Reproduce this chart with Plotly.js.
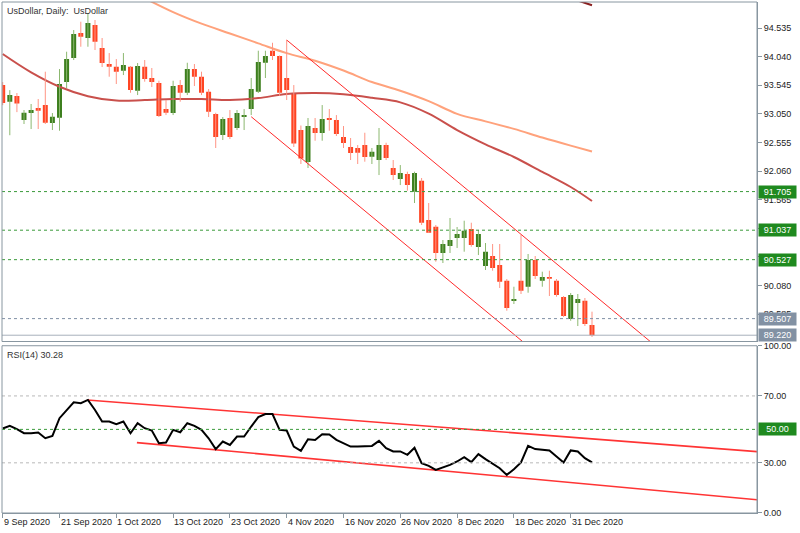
<!DOCTYPE html>
<html>
<head>
<meta charset="utf-8">
<script src="https://cdn.plot.ly/plotly-3.0.1.min.js"></script>
<style>html,body{margin:0;padding:0;background:#fff;}#chart{width:800px;height:533px;}</style>
</head>
<body>
<div id="chart"></div>
<script>
// ---- Data (daily bars, index 0 = 9 Sep 2020) ----
const dateLabels = ['9 Sep 2020','21 Sep 2020','1 Oct 2020','13 Oct 2020','23 Oct 2020','4 Nov 2020','16 Nov 2020','26 Nov 2020','8 Dec 2020','18 Dec 2020','31 Dec 2020'];
const dateLabelIdx = [0,8,16,24,32,40,48,56,64,72,80];

const opens = [93.548,93.26,93.358,92.943,93.064,93.151,93.202,92.891,92.983,93.60,
 94.016,94.448,94.362,94.587,94.189,93.912,93.865,93.796,93.865,93.45,
 93.865,93.67,93.583,93.133,93.064,93.548,93.415,93.825,93.692,93.433,
 93.047,92.683,92.978,92.805,92.995,93.133,93.433,93.934,94.142,94.05,
 93.67,93.40,92.77,92.216,92.805,92.718,92.978,92.943,92.649,92.476,
 92.459,92.51,92.308,92.251,92.51,92.113,91.922,92.009,91.703,91.893,
 91.213,91.097,90.642,90.763,90.902,90.902,91.057,90.746,90.417,90.59,
 90.434,90.163,89.812,90.163,90.059,90.521,90.163,90.227,90.163,89.881,
 89.50,89.777,89.817,89.396];
const highs = [93.60,93.46,93.41,93.116,93.22,93.306,93.779,93.064,93.825,94.125,
 94.50,94.644,94.794,94.673,94.362,94.102,93.998,94.102,93.877,93.929,
 93.981,93.843,93.623,93.289,93.623,93.635,93.934,93.912,93.779,93.479,
 93.069,92.995,93.116,93.116,93.133,93.67,94.142,94.142,94.28,94.06,
 94.327,93.548,92.848,92.978,92.978,93.202,93.133,93.029,92.839,92.632,
 92.51,92.723,92.459,92.805,92.55,92.251,92.164,92.049,92.049,91.94,
 91.507,91.126,90.867,91.248,91.092,91.201,91.166,91.04,90.815,90.798,
 90.798,90.192,90.059,90.953,90.625,90.59,90.319,90.336,90.192,89.898,
 89.95,89.933,89.864,89.627];
const lows = [93.20,92.68,93.08,92.874,92.787,92.787,92.874,92.77,92.758,93.497,
 93.981,94.211,94.211,94.154,93.86,93.692,93.566,93.721,93.415,93.375,
 93.606,93.514,92.995,93.029,93.029,93.26,93.375,93.531,93.375,92.995,
 92.459,92.597,92.614,92.77,92.77,93.029,93.41,93.67,93.981,93.358,
 93.289,92.476,92.182,92.113,92.585,92.585,92.758,92.666,92.459,92.251,
 92.182,92.222,92.182,91.991,92.251,91.905,91.818,91.72,91.507,91.126,
 90.988,90.492,90.469,90.642,90.729,90.665,90.751,90.607,90.348,90.336,
 90.037,89.644,89.76,89.933,89.955,90.192,90.059,89.898,89.886,89.535,
 89.471,89.379,89.379,89.189];
const closes = [93.237,93.375,93.23,93.069,93.116,93.104,92.896,93.00,93.566,93.998,
 94.431,94.384,94.621,94.298,93.929,93.865,93.779,93.894,93.462,93.877,
 93.652,93.60,93.012,93.069,93.531,93.415,93.825,93.692,93.415,93.087,
 92.649,92.96,92.649,93.064,93.029,93.479,93.946,94.05,94.05,93.415,
 93.462,92.536,92.277,92.839,92.718,92.96,92.943,92.701,92.545,92.372,
 92.377,92.303,92.395,92.51,92.286,91.991,92.026,91.818,92.026,91.166,
 90.993,90.642,90.798,90.867,90.971,91.028,90.78,90.971,90.665,90.383,
 90.146,89.691,89.846,89.99,90.521,90.244,90.227,90.197,89.915,89.552,
 89.915,89.846,89.414,89.22];

// moving averages (sampled at bar indices)
const maFastIdx = [0,4,8,12,16,20,24,28,32,36,40,44,48,52,56,60,64,68,72,76,80,83];
const maFast = [94.085,93.768,93.519,93.355,93.279,93.289,93.306,93.306,93.289,93.323,93.393,93.410,93.388,93.327,93.249,93.054,92.770,92.523,92.303,92.044,91.784,91.542];
const maSlowIdx = [20,24,28,32,36,40,44,48,52,56,60,64,68,72,76,80,83];
const maSlow = [95.05,94.81,94.61,94.44,94.27,94.10,93.97,93.80,93.60,93.45,93.27,93.05,92.92,92.79,92.64,92.50,92.40];
const maLongIdx = [81,82,83];
const maLong = [95.01,94.97,94.93];

// channel lines
const chanUpperIdx = [40,92];
const chanUpper = [94.327,89.03];
const chanLowerIdx = [35,75];
const chanLower = [93.00,88.93];

// horizontal levels
const greenLevels = [91.705,91.037,90.527];
const greenLevelLabels = ['91.705','91.037','90.527'];
const grayLevel = 89.507, grayLevelLabel = '89.507';
const lastPrice = 89.220, lastPriceLabel = '89.220';

const priceTicks = [94.535,94.040,93.545,93.050,92.555,92.060,91.565,91.070,90.575,90.080,89.585];
const priceTickText = ['94.535','94.040','93.545','93.050','92.555','92.060','91.565','91.070','90.575','90.080','89.585'];

// RSI(14)
const rsi = [50.5,52.1,50.1,47.7,47.7,48.1,44.7,46.1,56.7,61.6,
 66.2,65.6,67.6,61.6,54.7,54.7,53.1,54.7,47.7,53.7,
 50.7,49.3,41.7,42.1,49.7,48.3,53.7,52.1,49.7,44.7,
 38.2,42.7,40.7,45.7,45.7,51.7,57.3,59.2,59.2,49.7,
 49.3,39.7,37.2,44.1,43.7,47.1,46.9,43.7,41.7,39.7,
 39.7,39.7,40.1,43.1,38.8,36.8,36.8,34.8,39.0,29.8,
 28.2,25.8,27.2,28.8,30.8,33.4,30.4,35.2,32.2,29.4,
 26.8,22.8,26.2,30.2,40.1,38.2,37.8,37.4,33.8,30.2,
 37.4,36.8,32.8,30.28];
const rsiUpperIdx = [11.9,106.3];
const rsiUpper = [67.6,36.7];
const rsiLowerIdx = [18.9,106.3];
const rsiLower = [42.1,7.9];
const rsiTicks = [0,30,70,100];
const rsiTickText = ['0.00','30.00','70.00','100.00'];
const rsiGrayLevels = [70,30];
const rsiMid = 50, rsiMidLabel = '50.00';

// ---- build traces ----
const GREEN_BODY = '#3d7f1e', GREEN_WICK = '#8cb870';
const RED_BODY = '#ff4422', RED_WICK = '#ff9484';
const FRAME = '#8896a0';
const FONT = 'Liberation Sans, Arial, sans-serif';

function wicks(up) {
  const xs = [], ys = [];
  opens.forEach((o, i) => {
    if ((closes[i] >= o) === up) { xs.push(i, i, null); ys.push(lows[i], highs[i], null); }
  });
  return {type:'scatter', mode:'lines', x:xs, y:ys, xaxis:'x', yaxis:'y',
    line:{color: up ? GREEN_WICK : RED_WICK, width:1}, hoverinfo:'skip', connectgaps:false};
}
function bodies(up) {
  const xs = [], base = [], h = [];
  opens.forEach((o, i) => {
    if ((closes[i] >= o) === up) {
      xs.push(i);
      base.push(Math.min(o, closes[i]));
      h.push(Math.max(Math.abs(closes[i] - o), 0.012));
    }
  });
  return {type:'bar', x:xs, y:h, base:base, width:0.7, xaxis:'x', yaxis:'y',
    marker:{color: up ? GREEN_BODY : RED_BODY, line:{width:0}}, hoverinfo:'skip'};
}

const traces = [
  {type:'scatter', mode:'lines', x:maSlowIdx, y:maSlow, line:{color:'#ffa27c', width:2, shape:'spline'}, hoverinfo:'skip'},
  {type:'scatter', mode:'lines', x:maFastIdx, y:maFast, line:{color:'#c9504c', width:2, shape:'spline'}, hoverinfo:'skip'},
  {type:'scatter', mode:'lines', x:maLongIdx, y:maLong, line:{color:'#8b1f1f', width:2}, hoverinfo:'skip'},
  wicks(true), wicks(false), bodies(true), bodies(false),
  {type:'scatter', mode:'lines', x:chanUpperIdx, y:chanUpper, line:{color:'#ff2a2a', width:1}, hoverinfo:'skip'},
  {type:'scatter', mode:'lines', x:chanLowerIdx, y:chanLower, line:{color:'#ff2a2a', width:1}, hoverinfo:'skip'},
  {type:'scatter', mode:'lines', x:rsiUpperIdx, y:rsiUpper, xaxis:'x', yaxis:'y2', line:{color:'#ff3434', width:1.6}, hoverinfo:'skip'},
  {type:'scatter', mode:'lines', x:rsiLowerIdx, y:rsiLower, xaxis:'x', yaxis:'y2', line:{color:'#ff3434', width:1.6}, hoverinfo:'skip'},
  {type:'scatter', mode:'lines', x:rsi.map((_, i) => i), y:rsi, xaxis:'x', yaxis:'y2', line:{color:'#000', width:2}, hoverinfo:'skip'}
];

// ---- layout ----
const shapes = [];
greenLevels.forEach(v => shapes.push({type:'line', xref:'paper', x0:0, x1:1, yref:'y', y0:v, y1:v, line:{color:'#3a9a3a', width:1, dash:'3px,3px'}}));
shapes.push({type:'line', xref:'paper', x0:0, x1:1, yref:'y', y0:grayLevel, y1:grayLevel, line:{color:'#7f8fa4', width:1, dash:'3px,3px'}});
shapes.push({type:'line', xref:'paper', x0:0, x1:1, yref:'y', y0:lastPrice, y1:lastPrice, line:{color:'#a8b0bc', width:1}});
rsiGrayLevels.forEach(v => shapes.push({type:'line', xref:'paper', x0:0, x1:1, yref:'y2', y0:v, y1:v, line:{color:'#b8b8b8', width:1, dash:'3px,3px'}}));
shapes.push({type:'line', xref:'paper', x0:0, x1:1, yref:'y2', y0:rsiMid, y1:rsiMid, line:{color:'#3a9a3a', width:1, dash:'3px,3px'}});
// panel frames
shapes.push({type:'rect', xref:'paper', yref:'paper', x0:0, x1:1, y0:0.3356, y1:1, line:{color:FRAME, width:1}});
shapes.push({type:'rect', xref:'paper', yref:'paper', x0:0, x1:1, y0:0, y1:0.3273, line:{color:FRAME, width:1}});

function tagBox(text, yref, y, bg) {
  return {xref:'paper', x:1, xanchor:'left', xshift:1, yref:yref, y:y, yanchor:'middle',
    text:text, showarrow:false, bgcolor:bg, borderpad:1, width:35, height:10,
    font:{family:FONT, size:9, color:'#ffffff'}};
}
const annotations = [];
greenLevels.forEach((v, k) => annotations.push(tagBox(greenLevelLabels[k], 'y', v, '#1f8a1f')));
annotations.push(tagBox(grayLevelLabel, 'y', grayLevel, '#8291a3'));
annotations.push(tagBox(lastPriceLabel, 'y', lastPrice, '#8291a3'));
annotations.push(tagBox(rsiMidLabel, 'y2', rsiMid, '#1f8a1f'));
annotations.push({xref:'paper', x:0, xanchor:'left', xshift:3, yref:'paper', y:1, yanchor:'top', yshift:-2,
  text:'UsDollar, Daily:  UsDollar', showarrow:false, font:{family:FONT, size:9, color:'#333'}});
annotations.push({xref:'paper', x:0, xanchor:'left', xshift:3, yref:'paper', y:0.3273, yanchor:'top', yshift:-2,
  text:'RSI(14) 30.28', showarrow:false, font:{family:FONT, size:9, color:'#333'}});
// date labels: left-aligned at their tick, as in the terminal
dateLabelIdx.forEach((ix, k) => annotations.push({xref:'x', x:ix, xanchor:'left', xshift:-1, yref:'paper', y:0, yanchor:'top', yshift:-2,
  text:dateLabels[k], showarrow:false, font:{family:FONT, size:9, color:'#222'}}));

const axFont = {family:FONT, size:9, color:'#222'};
const layout = {
  width:800, height:533,
  margin:{l:2, r:43, t:2, b:20},
  paper_bgcolor:'#ffffff', plot_bgcolor:'#ffffff',
  showlegend:false, barmode:'overlay', dragmode:false,
  xaxis:{range:[-0.1,106.24], tickvals:dateLabelIdx, ticktext:dateLabels, showticklabels:false, ticks:'outside', ticklen:4,
    tickcolor:FRAME, showgrid:false, zeroline:false, showline:true, linecolor:FRAME, anchor:'y2', fixedrange:true},
  yaxis:{domain:[0.3356,1], range:[89.111,94.985], side:'right', anchor:'x', tickvals:priceTicks, ticktext:priceTickText,
    ticks:'outside', ticklen:4, tickcolor:FRAME, showgrid:false, zeroline:false, showline:true, linecolor:FRAME,
    tickfont:axFont, fixedrange:true},
  yaxis2:{domain:[0,0.3273], range:[0,100], side:'right', anchor:'x', tickvals:rsiTicks, ticktext:rsiTickText,
    ticks:'outside', ticklen:4, tickcolor:FRAME, showgrid:false, zeroline:false, showline:true, linecolor:FRAME,
    tickfont:axFont, fixedrange:true},
  shapes:shapes, annotations:annotations
};

Plotly.newPlot('chart', traces, layout, {staticPlot:true, displayModeBar:false});
</script>
</body>
</html>
